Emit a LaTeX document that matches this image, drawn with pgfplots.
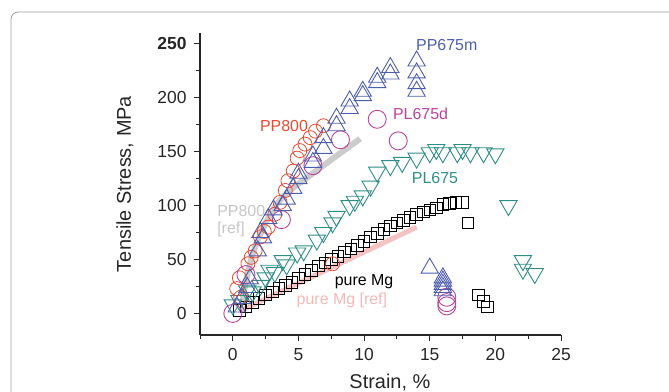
\documentclass[border=0pt]{standalone}
\usepackage{fontspec}
\setmainfont{Liberation Sans}
\usepackage{pgfplots}
\pgfplotsset{compat=1.18}
\definecolor{cBlue}{HTML}{4E5EAE}
\definecolor{cRed}{HTML}{E84A32}
\definecolor{cMag}{HTML}{B8449C}
\definecolor{cTeal}{HTML}{2E8E86}
\definecolor{cGrayRef}{HTML}{C6C6C6}
\definecolor{cPinkRef}{HTML}{F5B8B8}
\definecolor{cAxis}{HTML}{262626}
\begin{document}
\begin{tikzpicture}
\draw[gray!75, line width=0.8bp, rounded corners=7bp] (11bp,-12bp) rectangle (720bp,-440bp);
\begin{axis}[
  at={(200bp,-335bp)}, anchor=south west,
  scale only axis, width=361bp, height=302bp,
  xmin=-2.5, xmax=25, ymin=-20, ymax=260,
  axis lines=left, axis line style={-, line width=1.1bp, cAxis},
  tick align=outside, tick style={cAxis, line width=1bp},
  major tick length=6bp, minor tick length=4bp,
  xtick={0,5,...,25}, ytick={0,50,...,250},
  minor xtick={-2.5,2.5,7.5,12.5,17.5,22.5},
  minor ytick={25,75,125,175,225},
  yticklabels={0,50,100,150,200,\textbf{250}},
  /pgf/number format/assume math mode=true,
  ticklabel style={font=\fontsize{17.5}{19}\selectfont, color=cAxis},
  xticklabel style={yshift=-4bp},
  yticklabel style={xshift=-4bp},
  xlabel={Strain, \%}, ylabel={Tensile Stress, MPa},
  label style={font=\fontsize{20}{22}\selectfont, color=cAxis},
  x label style={at={(rel axis cs:0.526,0)}, anchor=center, yshift=-48bp},
  y label style={at={(rel axis cs:0,0.5)}, anchor=center, rotate=0, yshift=75bp},
  clip=false,
]
% references
\addplot[cGrayRef, line width=6bp, smooth, opacity=0.9] coordinates {
 (0.7,10) (1.0,30) (1.4,50) (1.9,68) (2.6,86) (3.4,102) (4.35,114) (6,129) (8,147) (9.7,162)};
\addplot[cPinkRef, line width=5bp, opacity=0.85] coordinates {
 (0.5,2) (14,80)};
% pure Mg
\addplot[only marks, mark=square, mark size=5.8bp, mark options={black, line width=0.8bp}] coordinates {
 (0.5,3) (1.0,6) (1.5,10) (2.0,14) (2.5,17) (3.0,20) (3.5,23) (4.0,26) (4.5,29) (5.0,33)
 (5.5,36) (6.0,40) (6.5,44) (7.0,47) (7.5,50) (8.0,53) (8.5,57) (9.0,60) (9.5,63) (10.0,67)
 (10.5,71) (11.0,74) (11.5,78) (12.0,81) (12.5,84) (13.0,86) (13.5,89) (14.0,92) (14.5,94)
 (15.0,96) (15.5,98) (16.0,101) (16.5,102) (17.0,103) (17.5,103)
 (17.9,84) (18.7,17) (19.1,11) (19.4,6)};
% PL675
\addplot[only marks, mark=triangle, mark size=10bp, mark options={cTeal, rotate=180, line width=0.9bp}] coordinates {
 (0.0,8) (0.5,12) (1.1,21) (1.5,20) (2.1,26) (2.5,33) (2.8,40) (3.2,38) (3.8,49) (4.1,45)
 (4.9,56) (5.4,58) (6.4,68) (6.9,75) (7.6,84) (7.9,90) (8.9,100) (9.3,104) (9.9,109) (10.5,118)
 (11.0,131) (12.0,137) (12.9,140) (14.0,144) (15.0,149) (15.5,152) (16.0,149) (17.1,149)
 (17.5,152) (18.1,149) (19.1,149) (20.0,148)
 (21.0,100) (22.1,49) (22.1,41) (23.0,37)};
% PP800
\addplot[only marks, mark=o, mark size=7bp, mark options={cRed, line width=0.8bp}] coordinates {
 (0.3,23) (0.5,33) (0.6,15) (1.15,46) (1.4,52) (1.7,58) (2.1,71) (2.4,76) (2.7,80) (3.2,92)
 (3.6,103) (4.0,114) (4.2,123) (4.6,132) (4.9,144) (5.1,151) (5.5,157) (5.9,163) (6.3,169)
 (6.9,174) (7.6,46)};
% PL675d
\addplot[only marks, mark=o, mark size=9bp, mark options={cMag, line width=0.9bp}] coordinates {
 (0,0) (1.0,36) (3.7,87) (6.1,137) (8.2,161) (11.0,180) (12.6,160) (16.3,15) (16.3,10) (16.3,7)};
% PP675m
\addplot[only marks, mark=triangle, mark size=10bp, mark options={cBlue, line width=0.9bp}] coordinates {
 (0.3,6) (0.7,14) (1.1,24) (1.3,32) (1.9,58) (2.1,75) (2.3,70) (2.7,88) (3.1,96) (3.8,100)
 (4.1,106) (4.6,116) (5.0,125) (5.0,130) (6.1,140) (6.1,146) (6.9,153) (6.9,163) (7.9,174)
 (7.9,181) (8.9,190) (8.9,197) (9.9,202) (9.9,206) (11.0,214) (11.0,219) (12.0,222) (12.0,228)
 (14.0,206) (14.0,213) (14.0,223) (14.0,234)
 (15.0,42) (16.0,33) (16.0,30) (16.0,27) (16.0,24) (16.0,21)};
% labels
\node[cBlue, font=\fontsize{16}{18}\selectfont] at (axis cs:16.3,249) {PP675m};
\node[cMag, font=\fontsize{16}{18}\selectfont] at (axis cs:14.3,185) {PL675d};
\node[cTeal, font=\fontsize{16}{18}\selectfont] at (axis cs:15.4,126) {PL675};
\node[cRed, font=\fontsize{16}{18}\selectfont] at (axis cs:3.9,174) {PP800};
\node[cGrayRef, font=\fontsize{16}{18}\selectfont, anchor=west, align=left] at (axis cs:-1.45,86) {PP800\\[-1bp][ref]};
\node[black, font=\fontsize{16}{18}\selectfont, anchor=west] at (axis cs:7.5,29) {pure Mg};
\node[cPinkRef, font=\fontsize{16}{18}\selectfont, anchor=west] at (axis cs:4.6,12) {pure Mg [ref]};
\end{axis}
\pgfresetboundingbox
\useasboundingbox (0,0) rectangle (669bp,-392bp);
\end{tikzpicture}
\end{document}
